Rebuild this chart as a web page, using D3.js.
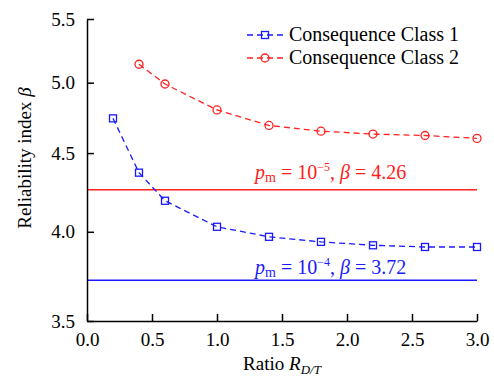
<!DOCTYPE html>
<html>
<head>
<meta charset="utf-8">
<script src="https://cdn.jsdelivr.net/npm/d3@7"></script>
<style>
  body { margin: 0; background: #fff; }
</style>
</head>
<body>
<div id="chart"></div>
<script>
// Data
const ratios1 = [0.2, 0.4, 0.6, 1.0, 1.4, 1.8, 2.2, 2.6, 3.0];
const class1 = [4.74, 4.37, 4.19, 4.03, 3.97, 3.94, 3.92, 3.91, 3.91];
const ratios2 = [0.4, 0.6, 1.0, 1.4, 1.8, 2.2, 2.6, 3.0];
const class2 = [5.14, 4.99, 4.80, 4.69, 4.65, 4.63, 4.62, 4.60];
const xTicks = [0, 0.5, 1.0, 1.5, 2.0, 2.5, 3.0];
const yTicks = [3.5, 4.0, 4.5, 5.0, 5.5];
const targets = [
  { beta: 4.26, exp: "5", color: "#ff2020" },
  { beta: 3.72, exp: "4", color: "#1a1aff" }
];

const FONT = "Liberation Serif";
const width = 494, height = 378;
const margin = { left: 87, right: 17, top: 19, bottom: 57 };
const blue = "#1a1aff", red = "#ff2020";

const svg = d3.select("#chart").append("svg")
  .attr("width", width)
  .attr("height", height)
  .attr("font-family", FONT);

const x = d3.scaleLinear().domain([0, 3]).range([margin.left, width - margin.right]);
const y = d3.scaleLog().domain([3.5, 5.5]).range([height - margin.bottom, margin.top]);

// target lines with labels
targets.forEach(t => {
  svg.append("line")
    .attr("x1", x(0)).attr("x2", x(3))
    .attr("y1", y(t.beta)).attr("y2", y(t.beta))
    .attr("stroke", t.color).attr("stroke-width", 1.5);
  const lbl = svg.append("text")
    .attr("x", 255).attr("y", y(t.beta) - (t.exp === "5" ? 11 : 6))
    .attr("font-family", FONT)
    .attr("font-size", 20).attr("fill", t.color);
  lbl.append("tspan").attr("font-style", "italic").text("p");
  lbl.append("tspan").attr("font-size", 14).attr("dy", 3).text("m");
  lbl.append("tspan").attr("dy", -3).text(" = 10");
  lbl.append("tspan").attr("font-size", 12).attr("dy", -8).text("\u2212" + t.exp);
  lbl.append("tspan").attr("dy", 8).text(", ");
  lbl.append("tspan").attr("font-style", "italic").text("\u03b2");
  lbl.append("tspan").text(" = " + t.beta.toFixed(2));
});

// axes
const xAxis = d3.axisBottom(x).tickValues(xTicks).tickFormat(d3.format(".1f"))
  .tickSizeInner(-7).tickSizeOuter(0).tickPadding(12);
const yAxis = d3.axisLeft(y).tickValues(yTicks).tickFormat(d3.format(".1f"))
  .tickSizeInner(-7).tickSizeOuter(0).tickPadding(12);

const gx = svg.append("g")
  .attr("transform", `translate(0,${height - margin.bottom})`)
  .call(xAxis);
const gy = svg.append("g")
  .attr("transform", `translate(${margin.left},0)`)
  .call(yAxis);
[gx, gy].forEach(g => {
  g.attr("font-family", FONT).attr("font-size", 19);
  g.select(".domain").attr("stroke", "#000").attr("stroke-width", 1.5);
  g.selectAll(".tick line").attr("stroke", "#000").attr("stroke-width", 1.5);
  g.selectAll(".tick text").attr("fill", "#000");
});

// axis titles
const xt = svg.append("text")
  .attr("x", (x(0) + x(3)) / 2).attr("y", 370)
  .attr("font-family", FONT)
  .attr("text-anchor", "middle").attr("font-size", 19);
xt.append("tspan").text("Ratio ");
xt.append("tspan").attr("font-style", "italic").text("R");
xt.append("tspan").attr("font-style", "italic").attr("font-size", 13).attr("dy", 4).text("D/T");

const yt = svg.append("text")
  .attr("transform", `translate(31,158) rotate(-90)`)
  .attr("font-family", FONT)
  .attr("text-anchor", "middle").attr("font-size", 19);
yt.append("tspan").text("Reliability index ");
yt.append("tspan").attr("font-style", "italic").text("\u03b2");

// series
const line = d3.line().x(d => x(d[0])).y(d => y(d[1]));
const series = [
  { xs: ratios1, ys: class1, color: blue, shape: "square", name: "Consequence Class 1" },
  { xs: ratios2, ys: class2, color: red, shape: "circle", name: "Consequence Class 2" }
];

function marker(g, cx, cy, s) {
  if (s.shape === "square") {
    g.append("rect").attr("x", cx - 3.5).attr("y", cy - 3.5)
      .attr("width", 7).attr("height", 7)
      .attr("fill", "none").attr("stroke", s.color).attr("stroke-width", 1.3);
  } else {
    g.append("circle").attr("cx", cx).attr("cy", cy).attr("r", 4)
      .attr("fill", "none").attr("stroke", s.color).attr("stroke-width", 1.3);
  }
}

series.forEach(s => {
  const pts = s.xs.map((v, i) => [v, s.ys[i]]);
  svg.append("path").datum(pts)
    .attr("d", line)
    .attr("fill", "none").attr("stroke", s.color)
    .attr("stroke-width", 1.3).attr("stroke-dasharray", "6,4");
  const g = svg.append("g");
  pts.forEach(p => marker(g, x(p[0]), y(p[1]), s));
});

// legend
series.forEach((s, i) => {
  const ly = 35 + i * 23;
  svg.append("line").attr("x1", 247).attr("x2", 285)
    .attr("y1", ly).attr("y2", ly)
    .attr("stroke", s.color).attr("stroke-width", 1.3).attr("stroke-dasharray", "6,4");
  marker(svg.append("g"), 265, ly, s);
  svg.append("text").attr("x", 289).attr("y", ly + 6)
    .attr("font-family", FONT)
    .attr("font-size", 20).text(s.name);
});
</script>
</body>
</html>
